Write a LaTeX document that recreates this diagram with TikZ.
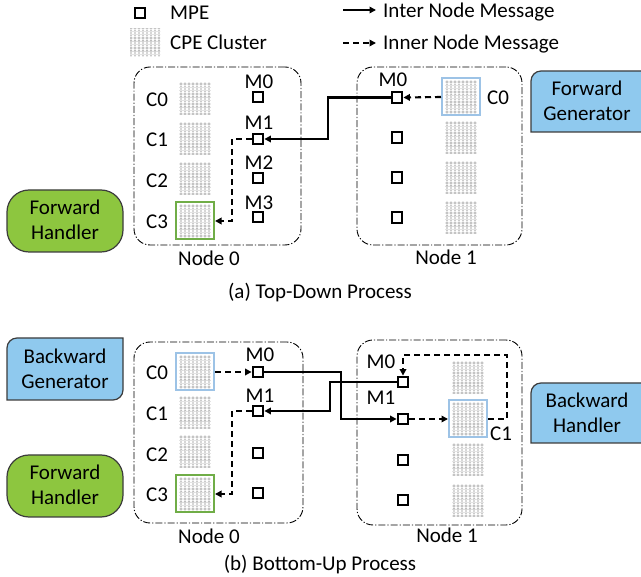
\documentclass[tikz,border=0pt]{standalone}
\usepackage{fontspec}
\setmainfont{Carlito}
\usetikzlibrary{arrows.meta,calc}
\definecolor{genblue}{RGB}{143,201,238}
\definecolor{handgreen}{RGB}{141,198,63}
\definecolor{hlblue}{RGB}{157,195,230}
\definecolor{hlgreen}{RGB}{112,173,71}
\definecolor{cpegray}{RGB}{175,175,175}
\definecolor{edgegray}{RGB}{60,60,60}
\tikzset{
  txt/.style={font=\fontsize{21}{25}\selectfont, inner sep=0pt, align=center},
  lbl/.style={txt, text height=13.5pt, text depth=0pt},
  mpe/.style={draw=black, line width=2.3pt, minimum size=10.5pt, inner sep=0pt},
  cpe/.style={minimum width=32pt, minimum height=32pt, inner sep=0pt,
    path picture={
      \foreach \i in {0,...,7} \foreach \j in {0,...,9}
        \draw[cpegray, line width=0.45pt]
          ([xshift=-14pt+\i*4pt, yshift=15pt-\j*3.33pt]path picture bounding box.center) circle (1.25pt);}},
  hlb/.style={cpe, draw=hlblue, line width=2pt, minimum width=38pt, minimum height=37pt},
  hlg/.style={cpe, draw=hlgreen, line width=2pt, minimum width=38pt, minimum height=37pt},
  nodebox/.style={draw=black, line width=0.9pt, rounded corners=16pt,
    dash pattern=on 7pt off 2pt on 1.2pt off 2pt},
  msg/.style={line width=2.1pt, -{Triangle[length=6.5pt,width=6.5pt]}},
  imsg/.style={msg, dash pattern=on 6pt off 4pt},
  pill/.style={draw=edgegray, line width=1.2pt, fill=handgreen, rounded corners=22pt,
    minimum width=116pt, minimum height=62pt},
  tabbox/.style={draw=edgegray, line width=1.2pt, fill=genblue},
}
\begin{document}
\begin{tikzpicture}[x=1pt, y=-1pt]
\useasboundingbox (0,0) rectangle (641,577);

% ---------------- legend ----------------
\node[mpe] (lmpe) at (140,13) {};
\node[lbl, anchor=west] (lmpet) at (170,13) {MPE};
\node[cpe, minimum width=30pt, minimum height=28pt] (lcpe) at (145,43) {};
\node[lbl, anchor=west] (lcpet) at (170,43) {CPE Cluster};
\coordinate (ls1) at (343,10); \coordinate (le1) at (376,10);
\draw[msg] (ls1) -- (le1);
\node[lbl, anchor=west] (linter) at (383,11) {Inter Node Message};
\coordinate (ls2) at (343,43); \coordinate (le2) at (376,43);
\draw[imsg] (ls2) -- (le2);
\node[lbl, anchor=west] (linner) at (383,43) {Inner Node Message};

% ---------------- (a) ----------------
\node[nodebox, minimum width=167pt, minimum height=178pt] (A0) at (217.5,156) {};
\node[nodebox, minimum width=165pt, minimum height=178pt] (A1) at (439.5,156) {};
\node[lbl] (A0t) at (209,259) {Node 0};
\node[lbl] (A1t) at (446,258) {Node 1};

\node[lbl] (a0c0t) at (157,100) {C0};
\node[lbl] (a0c1t) at (157,140) {C1};
\node[lbl] (a0c2t) at (157,181) {C2};
\node[lbl] (a0c3t) at (157,222) {C3};
\node[cpe] (a0c0) at (195,99) {};
\node[cpe] (a0c1) at (195,139) {};
\node[cpe] (a0c2) at (195,179) {};
\node[hlg] (a0c3) at (195,221) {};
\node[mpe] (a0m0) at (258,97) {};
\node[mpe] (a0m1) at (258,139) {};
\node[mpe] (a0m2) at (258,178) {};
\node[mpe] (a0m3) at (258,217) {};
\node[lbl] (a0m0t) at (259,82) {M0};
\node[lbl] (a0m1t) at (259,123) {M1};
\node[lbl] (a0m2t) at (259,163) {M2};
\node[lbl] (a0m3t) at (259,203) {M3};

\node[mpe] (a1m0) at (397,97.5) {};
\node[mpe] (a1m1) at (397,137.5) {};
\node[mpe] (a1m2) at (397,177.5) {};
\node[mpe] (a1m3) at (397,217.5) {};
\node[lbl] (a1m0t) at (393,80) {M0};
\node[hlb] (a1c0) at (461,97) {};
\node[cpe] (a1c1) at (461,138) {};
\node[cpe] (a1c2) at (461,178) {};
\node[cpe] (a1c3) at (461,218) {};
\node[lbl] (a1c0t) at (498,98) {C0};

\node[pill] (fh1) at (65,221) {};
\node[txt] (fh1t) at (65,220) {Forward\\Handler};
\path[tabbox] (531,132) -- (531,81) arc[start angle=180, end angle=270, radius=10] -- (660,71) -- (660,132) -- cycle;
\node[txt] (fgt) at (587,101) {Forward\\Generator};

\draw[msg] (a1m0.west) -| (328,120) |- (a0m1.east);
\draw[imsg] (a1c0.west) -- (a1m0.east);
\draw[imsg] (a0m1.west) -| (232,180) |- (a0c3.east);

\node[lbl] (capa) at (320,292) {(a) Top-Down Process};

% ---------------- (b) ----------------
\node[nodebox, minimum width=169pt, minimum height=181pt] (B0) at (218.5,432.5) {};
\node[nodebox, minimum width=165pt, minimum height=185pt] (B1) at (439.5,432.5) {};
\node[lbl] (B0t) at (209,537) {Node 0};
\node[lbl] (B1t) at (447,536) {Node 1};

\node[lbl] (b0c0t) at (157,373) {C0};
\node[lbl] (b0c1t) at (157,414) {C1};
\node[lbl] (b0c2t) at (157,455) {C2};
\node[lbl] (b0c3t) at (157,495) {C3};
\node[hlb] (b0c0) at (195,372) {};
\node[cpe] (b0c1) at (195,413) {};
\node[cpe] (b0c2) at (195,452) {};
\node[hlg] (b0c3) at (195,494) {};
\node[mpe] (b0m0) at (258,372) {};
\node[mpe] (b0m1) at (258,411) {};
\node[mpe] (b0m2) at (258,453) {};
\node[mpe] (b0m3) at (258,493) {};
\node[lbl] (b0m0t) at (260,355) {M0};
\node[lbl] (b0m1t) at (260,396) {M1};

\node[mpe] (b1m0) at (403,382) {};
\node[mpe] (b1m1) at (403,419) {};
\node[mpe] (b1m2) at (403,460) {};
\node[mpe] (b1m3) at (403,500) {};
\node[lbl] (b1m0t) at (381,362) {M0};
\node[lbl] (b1m1t) at (381,398) {M1};
\node[cpe] (b1c0) at (468,378) {};
\node[hlb] (b1c1) at (468,419) {};
\node[cpe] (b1c2) at (468,460) {};
\node[cpe] (b1c3) at (468,501) {};
\node[lbl] (b1c1t) at (501,434) {C1};

\path[tabbox] (7,400) -- (7,348) arc[start angle=180, end angle=270, radius=10] -- (123,338) -- (123,390) arc[start angle=0, end angle=90, radius=10] -- cycle;
\node[txt] (bgt) at (65,369) {Backward\\Generator};
\node[pill] (fh2) at (65,486) {};
\node[txt] (fh2t) at (65,485) {Forward\\Handler};
\path[tabbox] (531,443) -- (531,393) arc[start angle=180, end angle=270, radius=10] -- (660,383) -- (660,443) -- cycle;
\node[txt] (bht) at (587,413) {Backward\\Handler};

\draw[imsg] (b0c0.east) -- (b0m0.west);
\draw[imsg] (b0m1.west) -| (232,450) |- (b0c3.east);
\draw[msg] (b0m0.east) -| (341,400) |- (b1m1.west);
\draw[msg] (b1m0.west) -| (330,395) |- (b0m1.east);
\draw[imsg] (b1m1.east) -- (b1c1.west);
\draw[imsg] (b1c1.east) -| (507,355) -| (b1m0.north);

\node[lbl] (capb) at (320,564) {(b) Bottom-Up Process};
\end{tikzpicture}
\end{document}
